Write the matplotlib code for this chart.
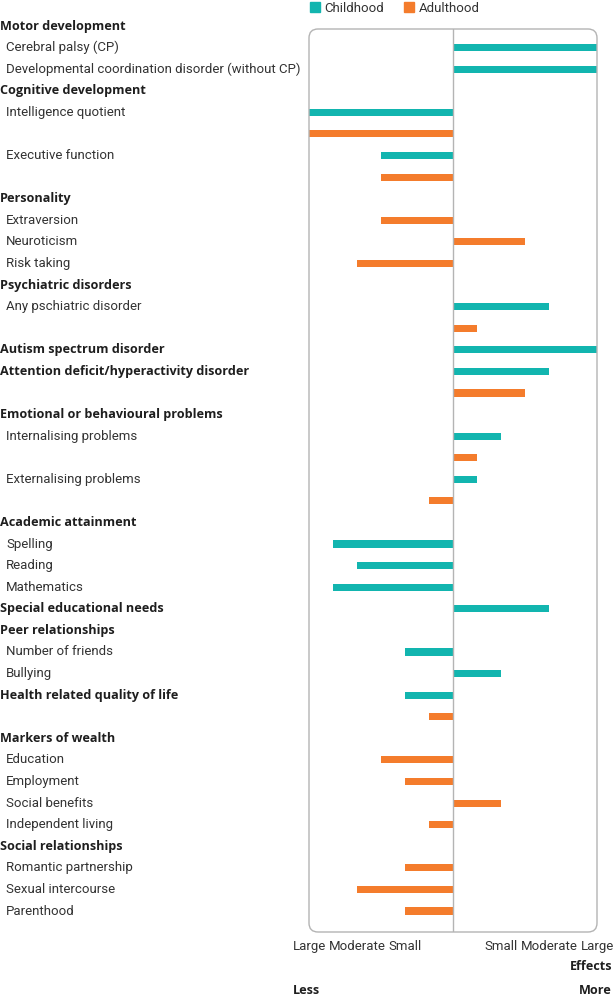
import numpy as np
import matplotlib
matplotlib.use("Agg")
import matplotlib.pyplot as plt
from matplotlib.patches import FancyBboxPatch, Patch
from matplotlib.transforms import blended_transform_factory, IdentityTransform

plt.rcParams['font.family'] = ['Roboto', 'DejaVu Sans']
BOLD_FAMILY = ['Open Sans', 'Roboto', 'DejaVu Sans']

# one entry per row, top to bottom; '' = row with a bar but no label
labels = [
    "Motor development", "Cerebral palsy (CP)",
    "Developmental coordination disorder (without CP)",
    "Cognitive development", "Intelligence quotient", "", "Executive function", "",
    "Personality", "Extraversion", "Neuroticism", "Risk taking",
    "Psychiatric disorders", "Any pschiatric disorder", "",
    "Autism spectrum disorder", "Attention deficit/hyperactivity disorder", "",
    "Emotional or behavioural problems", "Internalising problems", "",
    "Externalising problems", "",
    "Academic attainment", "Spelling", "Reading", "Mathematics",
    "Special educational needs",
    "Peer relationships", "Number of friends", "Bullying",
    "Health related quality of life", "",
    "Markers of wealth", "Education", "Employment", "Social benefits", "Independent living",
    "Social relationships", "Romantic partnership", "Sexual intercourse", "Parenthood",
]
# h = bold heading, i = indented item
kinds = [
    "h", "i", "i",
    "h", "i", "i", "i", "i",
    "h", "i", "i", "i",
    "h", "i", "i",
    "h", "h", "i",
    "h", "i", "i", "i", "i",
    "h", "i", "i", "i",
    "h",
    "h", "i", "i",
    "h", "i",
    "h", "i", "i", "i", "i",
    "h", "i", "i", "i",
]
n = np.nan
childhood = [
    n, 3, 3,
    n, -3, n, -1.5, n,
    n, n, n, n,
    n, 2, n,
    3, 2, n,
    n, 1, n, 0.5, n,
    n, -2.5, -2, -2.5,
    2,
    n, -1, 1,
    -1, n,
    n, n, n, n, n,
    n, n, n, n,
]
adulthood = [
    n, n, n,
    n, n, -3, n, -1.5,
    n, -1.5, 1.5, -2,
    n, n, 0.5,
    n, n, 1.5,
    n, n, 0.5, n, -0.5,
    n, n, n, n,
    n,
    n, n, n,
    n, -0.5,
    n, -1.5, -1, 1, -0.5,
    n, -1, -2, -1,
]
tick_pos = [-3, -2, -1, 1, 2, 3]
tick_text = ["Large", "Moderate", "Small", "Small", "Moderate", "Large"]

TEAL = "#12b5af"
ORANGE = "#f47c2c"
GREY = "#b4b4b4"
TXT = "#333333"
DARK = "#1e1e1e"
FS = 9.5
FS_B = 9.1

W, H = 613, 999
fig = plt.figure(figsize=(W / 100, H / 100), dpi=100)
ax = fig.add_axes([309 / W, 1 - 932 / H, 288 / W, 903 / H])

rows = np.arange(len(labels))
ch = np.array(childhood, dtype=float)
ad = np.array(adulthood, dtype=float)
m = ~np.isnan(ch)
ax.barh(rows[m], ch[m], height=0.33, color=TEAL)
m = ~np.isnan(ad)
ax.barh(rows[m], ad[m], height=0.33, color=ORANGE)

ax.axvline(0, color=GREY, lw=1)
ax.set_xlim(-3, 3)
ax.set_ylim(41 + 21 / 21.6, 3 / 21.6)
for s in ax.spines.values():
    s.set_visible(False)
ax.set_yticks([])
ax.set_xticks(tick_pos)
ax.set_xticklabels(tick_text)
ax.set_xticks([-2, -1, 1, 2], minor=True)
ax.tick_params(axis="x", which="major", length=0, pad=6, labelsize=FS, labelcolor=TXT)
ax.tick_params(axis="x", which="minor", length=4, direction="in", color=GREY, width=1)

fig.canvas.draw()
bb = ax.bbox
box = FancyBboxPatch((bb.x0, bb.y0), bb.width, bb.height,
                     boxstyle="round,pad=0,rounding_size=9",
                     transform=IdentityTransform(), fill=False, ec=GREY, lw=1)
fig.add_artist(box)

tr = blended_transform_factory(fig.transFigure, ax.transData)
for r, (lab, k) in enumerate(zip(labels, kinds)):
    if not lab:
        continue
    if k == "h":
        ax.text(0 / W, r, lab, transform=tr, ha="left", va="center", fontsize=FS_B,
                fontweight="bold", family=BOLD_FAMILY, color=DARK, clip_on=False)
    else:
        ax.text(6 / W, r, lab, transform=tr, ha="left", va="center", fontsize=FS,
                color=TXT, clip_on=False)

handles = [Patch(color=TEAL, label="Childhood"), Patch(color=ORANGE, label="Adulthood")]
fig.legend(handles=handles, loc="center", bbox_to_anchor=(395 / W, 1 - 8 / H), ncol=2,
           frameon=False, fontsize=FS, handlelength=0.75, handleheight=0.75,
           handletextpad=0.35, columnspacing=1.5, labelcolor=TXT, borderpad=0)

fig.text(612 / W, 1 - 967 / H, "Effects", ha="right", va="center", fontsize=FS_B,
         fontweight="bold", family=BOLD_FAMILY, color=DARK)
fig.text(293 / W, 1 - 990 / H, "Less", ha="left", va="center", fontsize=FS_B,
         fontweight="bold", family=BOLD_FAMILY, color=DARK)
fig.text(612 / W, 1 - 990 / H, "More", ha="right", va="center", fontsize=FS_B,
         fontweight="bold", family=BOLD_FAMILY, color=DARK)

fig.savefig("out.png", dpi=100)
